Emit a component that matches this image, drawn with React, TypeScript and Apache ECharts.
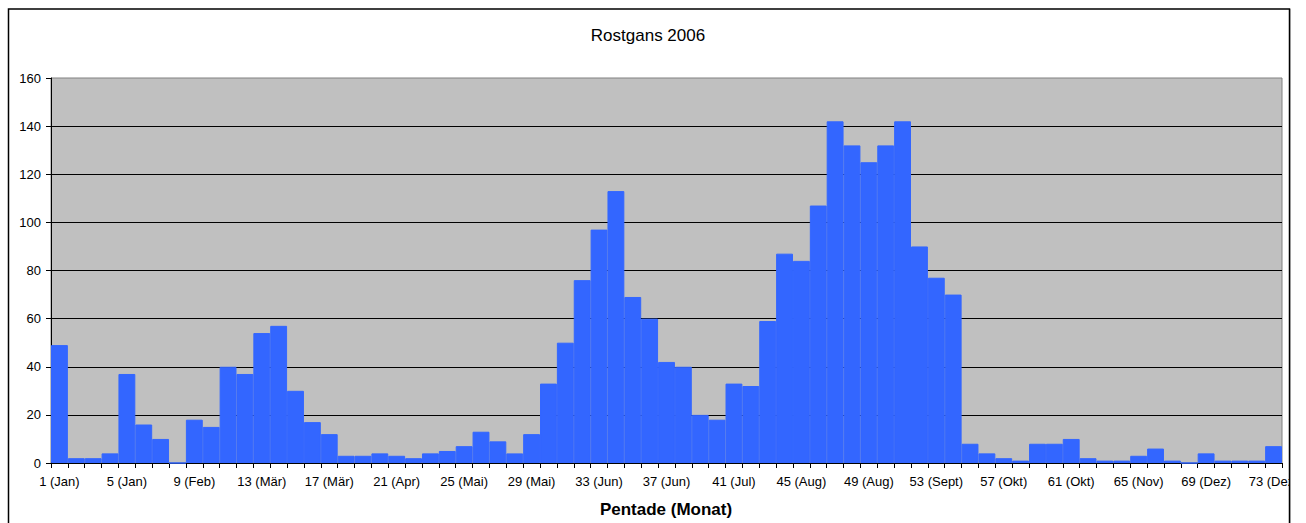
import React, { useEffect, useRef } from "react";
import * as echarts from "echarts";

const title = "Rostgans 2006";
const xAxisTitle = "Pentade (Monat)";
const tickLabels = [
  "1 (Jan)", "5 (Jan)", "9 (Feb)", "13 (Mär)", "17 (Mär)", "21 (Apr)", "25 (Mai)",
  "29 (Mai)", "33 (Jun)", "37 (Jun)", "41 (Jul)", "45 (Aug)", "49 (Aug)", "53 (Sept)",
  "57 (Okt)", "61 (Okt)", "65 (Nov)", "69 (Dez)", "73 (Dez)",
];
const counts = [
  49, 2, 2, 4, 37, 16, 10, 0, 18, 15,
  40, 37, 54, 57, 30, 17, 12, 3, 3, 4,
  3, 2, 4, 5, 7, 13, 9, 4, 12, 33,
  50, 76, 97, 113, 69, 60, 42, 40, 20, 18,
  33, 32, 59, 87, 84, 107, 142, 132, 125, 132,
  142, 90, 77, 70, 8, 4, 2, 1, 8, 8,
  10, 2, 1, 1, 3, 6, 1, 0, 4, 1,
  1, 1, 7,
];
const pentades = counts.map((_, i) => String(i + 1));
const yTicks = { min: 0, max: 160, interval: 20 };

const FONT = "'Liberation Sans', Arial, sans-serif";

export default function App() {
  const ref = useRef<HTMLDivElement>(null);
  useEffect(() => {
    if (!ref.current) return;
    const chart = echarts.init(ref.current, null, { renderer: "svg" });
    chart.setOption({
      animation: false,
      backgroundColor: "#ffffff",
      textStyle: { fontFamily: FONT },
      grid: {
        left: 51,
        top: 78,
        right: 24,
        bottom: 60,
        show: true,
        backgroundColor: "#C0C0C0",
        borderColor: "#808080",
        borderWidth: 1,
      },
      xAxis: {
        type: "category",
        data: pentades,
        boundaryGap: true,
        axisLine: { show: true, lineStyle: { color: "#000000", width: 1 } },
        axisTick: { show: true, interval: 0, length: 5, lineStyle: { color: "#000000" } },
        axisLabel: {
          interval: 3,
          margin: 12,
          color: "#000000",
          fontSize: 13,
          fontFamily: FONT,
          formatter: (_v: string, idx: number) => tickLabels[idx / 4] ?? "",
        },
        splitLine: { show: false },
      },
      yAxis: {
        type: "value",
        min: yTicks.min,
        max: yTicks.max,
        interval: yTicks.interval,
        axisLine: { show: true, lineStyle: { color: "#000000", width: 1 } },
        axisTick: { show: true, length: 5, lineStyle: { color: "#000000" } },
        axisLabel: { margin: 10, color: "#000000", fontSize: 13, fontFamily: FONT },
        splitLine: {
          show: true,
          showMaxLine: false,
          lineStyle: {
            color: ["#000000", "#000000", "#000000", "#000000", "#000000", "#000000", "#000000", "#000000", "#808080"],
            width: 1,
          },
        },
      },
      series: [
        {
          type: "bar",
          data: counts,
          barCategoryGap: "0%",
          itemStyle: { color: "#3366FF", borderColor: "#3366FF", borderWidth: 1 },
        },
      ],
      graphic: [
        {
          type: "text",
          x: 648,
          y: 35,
          z: 50,
          style: {
            text: title,
            fontSize: 17,
            fontFamily: FONT,
            fill: "#000000",
            textAlign: "center",
            textVerticalAlign: "middle",
          },
        },
        {
          type: "text",
          x: 666,
          y: 509,
          z: 50,
          style: {
            text: xAxisTitle,
            fontSize: 17,
            fontWeight: "bold",
            fontFamily: FONT,
            fill: "#000000",
            textAlign: "center",
            textVerticalAlign: "middle",
          },
        },
        {
          type: "rect",
          z: 100,
          shape: { x: 1290, y: 0, width: 20, height: 523 },
          style: { fill: "#ffffff" },
        },
        {
          type: "rect",
          z: 101,
          shape: { x: 8.5, y: 9, width: 1281, height: 530 },
          style: { fill: "none", stroke: "#000000", lineWidth: 1.5 },
        },
        {
          type: "line",
          z: 101,
          shape: { x1: 1290.5, y1: 9, x2: 1290.5, y2: 523 },
          style: { stroke: "#9a9a9a", lineWidth: 1 },
        },
      ],
    });
    return () => chart.dispose();
  }, []);
  return (
    <div
      ref={ref}
      style={{ position: "fixed", left: 0, top: 0, width: 1306, height: 523 }}
    />
  );
}
